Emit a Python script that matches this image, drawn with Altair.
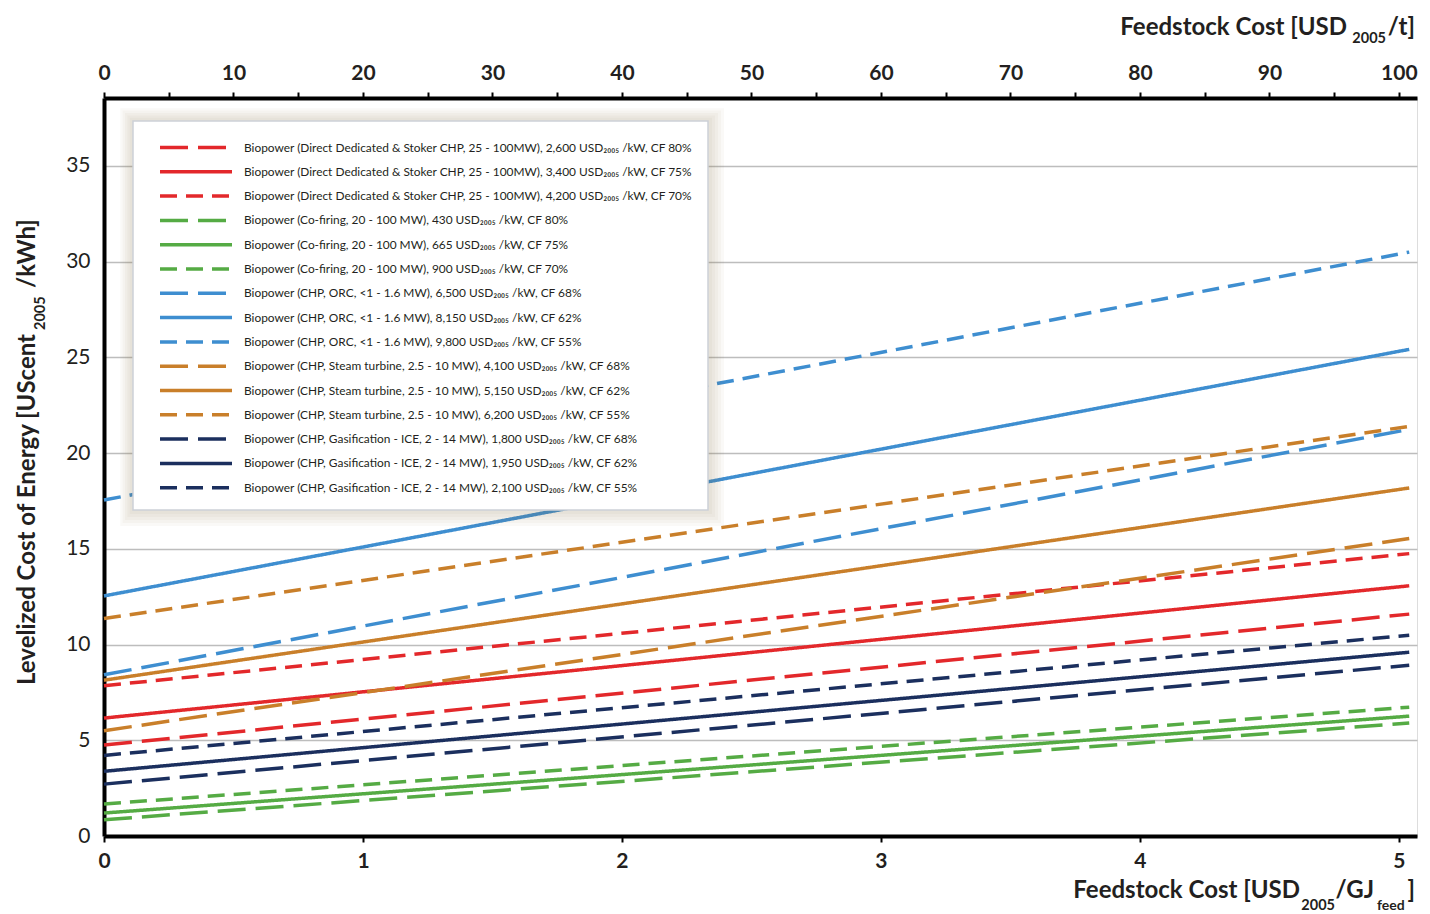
import altair as alt
import pandas as pd

# ---------------- data ----------------
labels = [
    "Biopower (Direct Dedicated & Stoker CHP, 25 - 100MW), 2,600 USD₂₀₀₅ /kW, CF 80%",
    "Biopower (Direct Dedicated & Stoker CHP, 25 - 100MW), 3,400 USD₂₀₀₅ /kW, CF 75%",
    "Biopower (Direct Dedicated & Stoker CHP, 25 - 100MW), 4,200 USD₂₀₀₅ /kW, CF 70%",
    "Biopower (Co-firing, 20 - 100 MW), 430 USD₂₀₀₅ /kW, CF 80%",
    "Biopower (Co-firing, 20 - 100 MW), 665 USD₂₀₀₅ /kW, CF 75%",
    "Biopower (Co-firing, 20 - 100 MW), 900 USD₂₀₀₅ /kW, CF 70%",
    "Biopower (CHP, ORC, <1 - 1.6 MW), 6,500 USD₂₀₀₅ /kW, CF 68%",
    "Biopower (CHP, ORC, <1 - 1.6 MW), 8,150 USD₂₀₀₅ /kW, CF 62%",
    "Biopower (CHP, ORC, <1 - 1.6 MW), 9,800 USD₂₀₀₅ /kW, CF 55%",
    "Biopower (CHP, Steam turbine, 2.5 - 10 MW), 4,100 USD₂₀₀₅ /kW, CF 68%",
    "Biopower (CHP, Steam turbine, 2.5 - 10 MW), 5,150 USD₂₀₀₅ /kW, CF 62%",
    "Biopower (CHP, Steam turbine, 2.5 - 10 MW), 6,200 USD₂₀₀₅ /kW, CF 55%",
    "Biopower (CHP, Gasification  - ICE, 2 - 14 MW), 1,800 USD₂₀₀₅ /kW, CF 68%",
    "Biopower (CHP, Gasification  - ICE, 2 - 14 MW), 1,950 USD₂₀₀₅ /kW, CF 62%",
    "Biopower (CHP, Gasification  - ICE, 2 - 14 MW), 2,100 USD₂₀₀₅ /kW, CF 55%",
]
x_start = [0.0] * 15
x_end = [5.04] * 15
y_start = [4.75, 6.16, 7.85, 0.85, 1.20, 1.67, 8.42, 12.54, 17.55,
           5.50, 8.14, 11.36, 2.71, 3.38, 4.21]
y_end = [11.59, 13.07, 14.75, 5.90, 6.26, 6.73, 21.24, 25.42, 30.50,
         15.54, 18.18, 21.40, 8.92, 9.60, 10.49]

bottom_ticks = [i * 0.25 for i in range(21)]
top_ticks = list(range(0, 101, 5))
y_ticks = list(range(0, 36, 5))

# ---------------- styles ----------------
RED, GREEN, BLUE, ORANGE, NAVY = "#e3282b", "#55ab44", "#3e8ed0", "#c97f2a", "#1b2f5e"
colors = [RED] * 3 + [GREEN] * 3 + [BLUE] * 3 + [ORANGE] * 3 + [NAVY] * 3
LONG, SOLID, SHORT = [28, 10], [1, 0], [17, 9]
dashes = [LONG, SOLID, SHORT] * 5
FONT = "Lato, Noto Sans, sans-serif"
TXT = "#231f20"
W, H = 1313, 738

rows = []
for i, lab in enumerate(labels):
    rows.append({"series": lab, "x": x_start[i], "y": y_start[i]})
    rows.append({"series": lab, "x": x_end[i], "y": y_end[i]})
lines_df = pd.DataFrame(rows)

leg_df = pd.DataFrame({"series": labels, "row": list(range(len(labels)))})
leg_df["ly"] = 49.5 + 24.3 * leg_df["row"]

color_enc = alt.Color("series:N", scale=alt.Scale(domain=labels, range=colors), legend=None)
dash_enc = alt.StrokeDash("series:N", scale=alt.Scale(domain=labels, range=dashes), legend=None)

dummy = pd.DataFrame({"a": [0]})

lines = alt.Chart(lines_df).mark_line(strokeWidth=3.5, strokeCap="butt").encode(
    x=alt.X("x:Q", scale=alt.Scale(domain=[0, 5.07], nice=False, zero=False),
            axis=alt.Axis(orient="bottom", values=bottom_ticks,
                          labelExpr="datum.value % 1 == 0 ? datum.label : ''",
                          format="d", title=None, grid=False,
                          tickSize=6, tickWidth=2, tickColor="black",
                          domainColor="black", domainWidth=4,
                          labelFont=FONT, labelFontSize=21, labelFontWeight="bold",
                          labelColor=TXT, labelPadding=8, labelFlush=False)),
    y=alt.Y("y:Q", scale=alt.Scale(domain=[0, 38.55], nice=False),
            axis=alt.Axis(values=y_ticks, title=None, ticks=False,
                          domainColor="black", domainWidth=4,
                          gridColor="#bdbdbd", gridWidth=1.5,
                          labelFont=FONT, labelFontSize=21, labelColor=TXT,
                          labelPadding=14)),
    color=color_enc,
    strokeDash=dash_enc,
    detail="series:N",
)

top = alt.Chart(pd.DataFrame({"t": [0, 100]})).mark_point(opacity=0).encode(
    x=alt.X("t:Q", scale=alt.Scale(domain=[0, 101.4], nice=False, zero=False),
            axis=alt.Axis(orient="top", values=top_ticks,
                          labelExpr="datum.value % 10 == 0 ? datum.label : ''",
                          title=None, grid=False,
                          tickSize=6, tickWidth=2, tickColor="black",
                          domainColor="black", domainWidth=4,
                          labelFont=FONT, labelFontSize=21, labelFontWeight="bold",
                          labelColor=TXT, labelPadding=9, labelFlush=False)),
)

# legend box with soft shadow
BX0, BX1, BY0, BY1 = 29, 604, 23, 412
shadows = []
for m in [16, 13, 10, 7, 4]:
    shadows.append(
        alt.Chart(dummy).mark_rect(fill="#8a6a40", opacity=0.045).encode(
            x=alt.value(BX0 - m * 0.8), x2=alt.value(BX1 + m),
            y=alt.value(BY0 - m * 0.8), y2=alt.value(BY1 + m))
    )
box = alt.Chart(dummy).mark_rect(fill="white", stroke="#cdd1d8", strokeWidth=1.5).encode(
    x=alt.value(BX0), x2=alt.value(BX1), y=alt.value(BY0), y2=alt.value(BY1))

leg_rules = alt.Chart(leg_df).mark_rule(strokeWidth=3.5, strokeCap="butt").encode(
    x=alt.value(56), x2=alt.value(128),
    y=alt.Y("ly:Q", scale=None, axis=None),
    color=color_enc, strokeDash=dash_enc,
)
leg_text = alt.Chart(leg_df).mark_text(align="left", baseline="middle", font=FONT,
                                       fontSize=11.9, color=TXT).encode(
    x=alt.value(140), y=alt.Y("ly:Q", scale=None, axis=None), text="series:N")


def txt(s, x, y, size, align="left", angle=0):
    return alt.Chart(dummy).mark_text(text=s, align=align, baseline="alphabetic", angle=angle,
                                      font=FONT, fontSize=size, fontWeight="bold",
                                      color=TXT).encode(x=alt.value(x), y=alt.value(y))


titles = [
    # bottom title
    txt("Feedstock Cost [USD", 1196, 800, 24, "right"),
    txt("2005", 1231, 812, 14.5, "right"),
    txt("/GJ", 1270, 800, 24, "right"),
    txt("feed", 1273, 812, 14, "left"),
    txt("]", 1311, 800, 24, "right"),
    # top title
    txt("Feedstock Cost [USD", 1243, -63, 24, "right"),
    txt("2005", 1282, -55, 14.5, "right"),
    txt("/t]", 1311, -63, 24, "right"),
    # y title
    txt("Levelized Cost of Energy [UScent", -69, 236, 24, "right", 270),
    txt("2005", -59, 232, 14.5, "left", 270),
    txt("/kWh]", -69, 190, 24, "left", 270),
]

chart = alt.layer(lines, top, *shadows, box, leg_rules, leg_text, *titles).resolve_scale(
    x="independent"
).properties(
    width=W, height=H,
    autosize=alt.AutoSizeParams(type="none"),
    padding={"left": 96, "top": 90, "right": 5, "bottom": 80},
).configure_view(fill="#fdf4e5", stroke=None).configure(background="white")

chart.save("out.html", embed_options={"renderer": "svg", "actions": False})
